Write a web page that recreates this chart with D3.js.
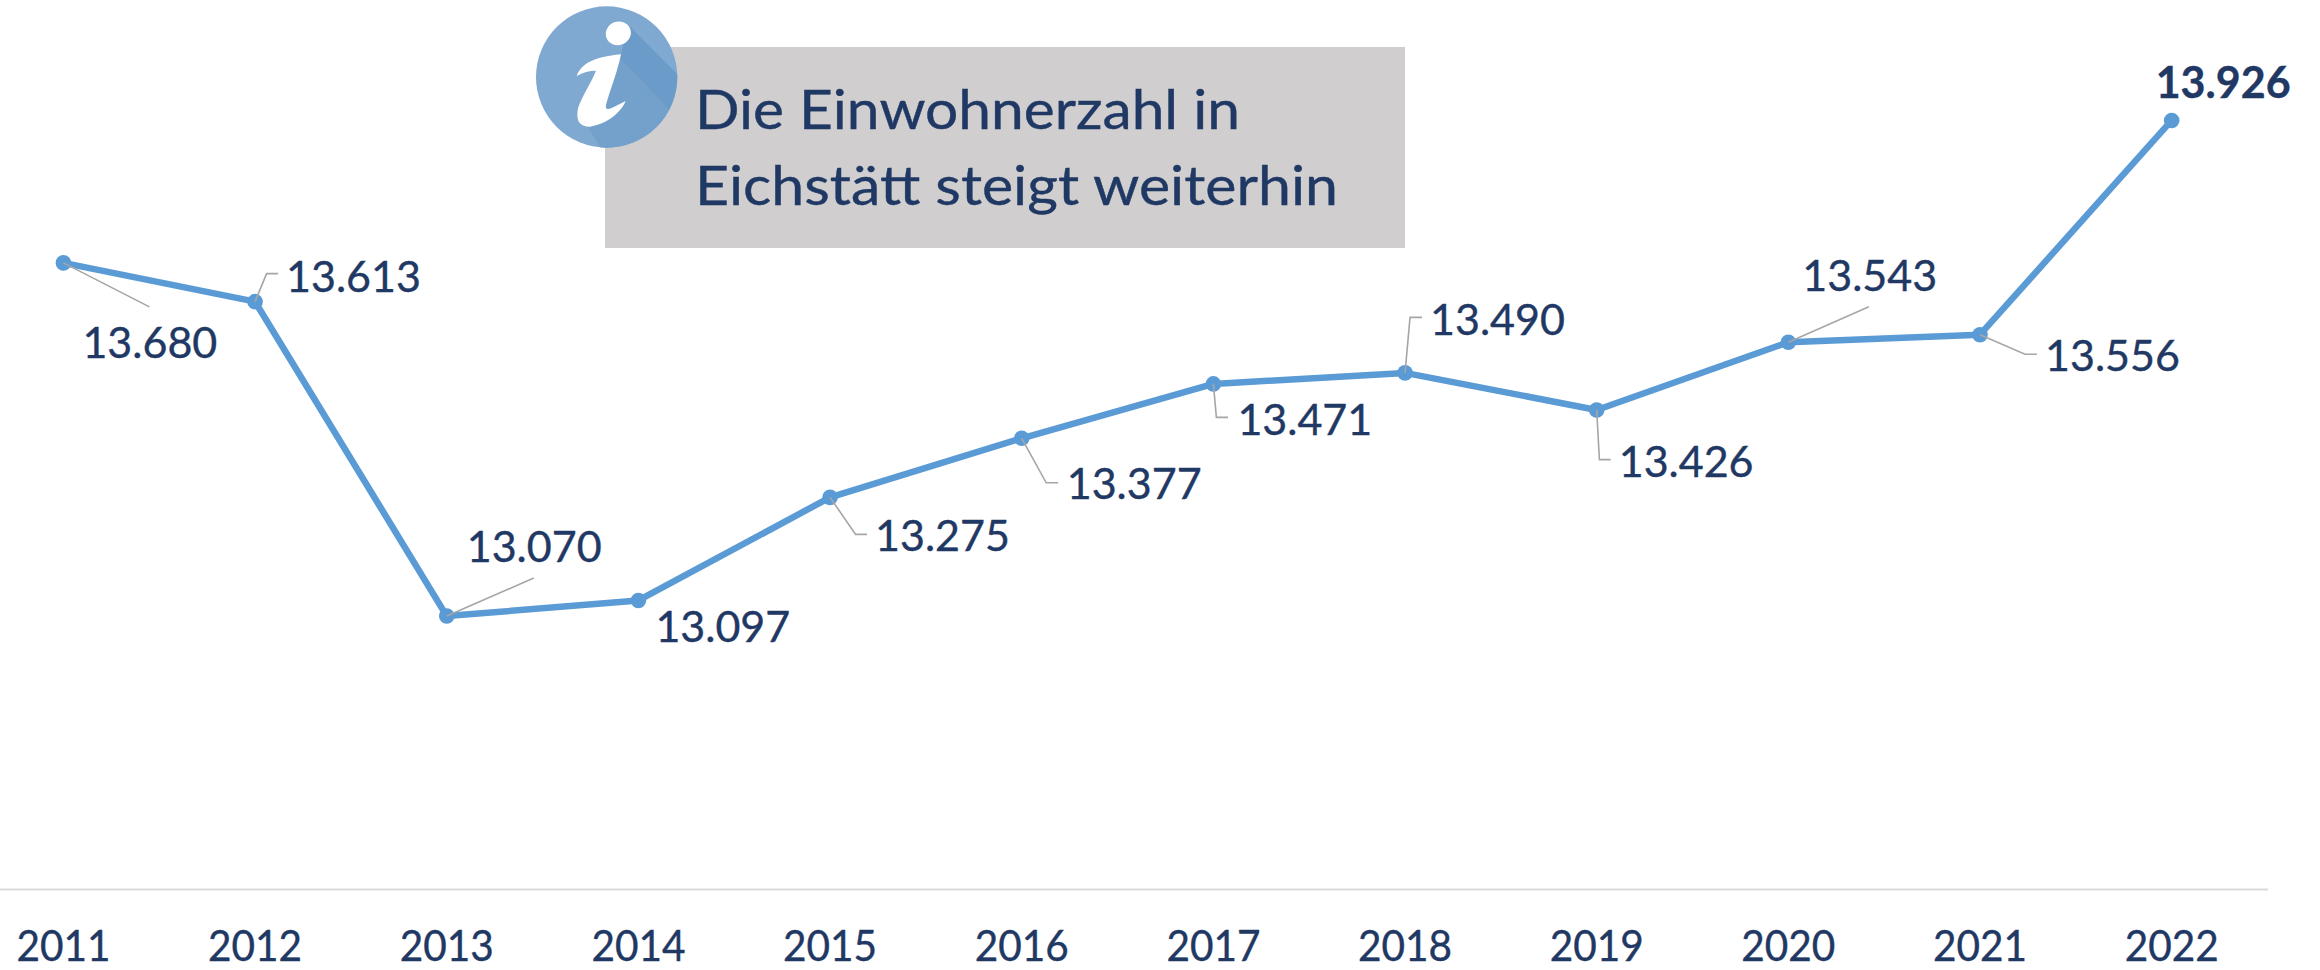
<!DOCTYPE html>
<html lang="de">
<head>
<meta charset="utf-8">
<script src="https://cdn.jsdelivr.net/npm/d3@7/dist/d3.min.js"></script>
<style>
    html, body { margin: 0; padding: 0; background: #fff; }
    svg { display: block; }
    text { font-family: Lato, "Open Sans", sans-serif; fill: #1f3864; stroke: #1f3864; stroke-width: 0.4px; }
</style>
</head>
<body>
<div id="chart"></div>
<script>
const years = ['2011', '2012', '2013', '2014', '2015', '2016', '2017', '2018', '2019', '2020', '2021', '2022'];
const residents = [13680, 13613, 13070, 13097, 13275, 13377, 13471, 13490, 13426, 13543, 13556, 13926];
const noteLines = ['Die Einwohnerzahl in', 'Eichstätt steigt weiterhin'];

// label placement relative to its point: left edge, baseline
const labelOffsets = [[19, 95], [31, -10], [20, -54], [17, 42], [45, 54], [45, 61], [24, 51], [25, -38], [22, 67], [14, -51], [65, 36], [-16, -22]];
// leader lines relative to the point, [] = no leader
const leaderOffsets = [
    [[0, 0], [86, 44]],
    [[0, 0], [11.5, -28], [23, -28]],
    [[0, 0], [87, -38]],
    [],
    [[0, 0], [25.5, 37], [37, 37]],
    [[0, 0], [24.5, 44.5], [36.5, 44.5]],
    [[0, 0], [3, 33.5], [14.7, 33.5]],
    [[0, 0], [5, -55.5], [17, -55.5]],
    [[0, 0], [2.7, 49.7], [14, 49.7]],
    [[0, 0], [80.5, -35.5]],
    [[0, 0], [45, 19.5], [57, 19.5]],
    []
];

const width = 2320,
    height = 970,
    baseline = 889;

const svg = d3.select('#chart').append('svg')
    .attr('width', width)
    .attr('height', height);

// band scale so the axis line runs half a category past the first and last year
const x = d3.scaleBand()
    .domain(years)
    .range([-32.4, 2267.5]);

const y = d3.scaleLinear()
    .domain([12600, 14000])
    .range([888.2, 77.6]);

const cx = (d, i) => x(years[i]) + x.bandwidth() / 2;
const cy = d => y(d);

// axis
const axis = svg.append('g')
    .attr('transform', `translate(0,${baseline})`)
    .call(d3.axisBottom(x).tickSize(0).tickPadding(41));

axis.select('.domain')
    .attr('stroke', '#d9d9d9')
    .attr('stroke-width', 2);

axis.selectAll('text')
    .style('font-family', 'Lato, "Open Sans", sans-serif')
    .style('font-size', '43px')
    .style('fill', '#1f3864')
    .attr('textLength', 94)
    .attr('lengthAdjust', 'spacingAndGlyphs');

// note box
svg.append('rect')
    .attr('x', 605)
    .attr('y', 47)
    .attr('width', 800)
    .attr('height', 201)
    .attr('fill', '#d0cece');

const noteWidths = [545, 643];

svg.selectAll('.note')
    .data(noteLines)
    .enter().append('text')
    .attr('class', 'note')
    .attr('x', 695)
    .attr('y', (d, i) => 129 + i * 76)
    .attr('textLength', (d, i) => noteWidths[i])
    .attr('lengthAdjust', 'spacingAndGlyphs')
    .style('font-size', '55px')
    .text(d => d);

// info icon, drawn in the coordinates of a 3x crop
const icon = svg.append('g')
    .attr('transform', 'translate(525,0) scale(0.3333)');

icon.append('clipPath')
    .attr('id', 'iconClip')
    .append('circle')
    .attr('cx', 245)
    .attr('cy', 231)
    .attr('r', 212);

icon.append('circle')
    .attr('cx', 245)
    .attr('cy', 231)
    .attr('r', 212)
    .attr('fill', '#7fa9d0');

const shadow = icon.append('g').attr('clip-path', 'url(#iconClip)');

shadow.append('path')
    .attr('d', 'M310,75L500,265L500,400L285,175Z')
    .attr('fill', '#6b9bc8');

shadow.append('path')
    .attr('d', 'M285,175L500,400L500,500L260,500L185,375L240,300Z')
    .attr('fill', '#73a1cc');

icon.append('ellipse')
    .attr('cx', 280)
    .attr('cy', 100)
    .attr('rx', 38)
    .attr('ry', 35)
    .attr('transform', 'rotate(-20 280 100)')
    .attr('fill', '#fff');

icon.append('path')
    .attr('d', 'M155,228C170,190 205,172 288,163C278,215 255,270 243,315C241,330 248,330 265,322L302,303C288,338 245,372 195,380C163,382 152,360 159,325C170,290 203,240 213,212C193,212 173,217 155,228Z')
    .attr('fill', '#fff');

// leader lines
const leader = d3.line();

// series
const line = d3.line()
    .x(cx)
    .y(cy);

svg.append('path')
    .datum(residents)
    .attr('fill', 'none')
    .attr('stroke', '#5b9bd5')
    .attr('stroke-width', 6.5)
    .attr('stroke-linejoin', 'round')
    .attr('d', line);

svg.selectAll('.dot')
    .data(residents)
    .enter().append('circle')
    .attr('class', 'dot')
    .attr('cx', cx)
    .attr('cy', cy)
    .attr('r', 7.8)
    .attr('fill', '#5b9bd5');

// leaders sit on top of the line
svg.selectAll('.leader')
    .data(residents)
    .enter().append('path')
    .attr('class', 'leader')
    .attr('fill', 'none')
    .attr('stroke', '#a6a6a6')
    .attr('stroke-width', 1.6)
    .attr('d', (d, i) => leader(leaderOffsets[i].map(o => [cx(d, i) + o[0], cy(d) + o[1]])));

// value labels, German thousands separator
const format = d3.formatLocale({ decimal: ',', thousands: '.', grouping: [3], currency: ['', ' €'] }).format(',d');

svg.selectAll('.value')
    .data(residents)
    .enter().append('text')
    .attr('class', 'value')
    .attr('x', (d, i) => cx(d, i) + labelOffsets[i][0])
    .attr('y', (d, i) => cy(d) + labelOffsets[i][1])
    .style('font-size', '43px')
    .style('font-weight', (d, i) => i === residents.length - 1 ? 700 : 400)
    .text(format);
</script>
</body>
</html>
